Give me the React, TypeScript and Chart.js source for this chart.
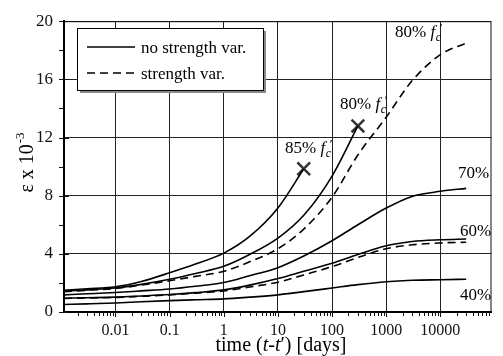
import React, { useEffect, useRef } from "react";
import { Chart, registerables } from "chart.js";

Chart.register(...registerables);

// time (t - t') [days]
const T = [0.00112, 0.003, 0.01, 0.03, 0.1, 0.3, 1, 3, 10, 30, 100, 300, 1000, 3000, 10000, 30000];

const S40 = [0.52, 0.56, 0.62, 0.7, 0.78, 0.84, 0.9, 1.02, 1.18, 1.4, 1.65, 1.88, 2.08, 2.18, 2.22, 2.25];
const S60 = [0.95, 0.98, 1.02, 1.1, 1.2, 1.33, 1.52, 1.85, 2.3, 2.8, 3.35, 3.95, 4.55, 4.85, 4.97, 5.02];
const S60_VAR = [0.93, 0.97, 1.0, 1.08, 1.18, 1.3, 1.45, 1.72, 2.05, 2.55, 3.12, 3.75, 4.35, 4.62, 4.75, 4.8];
const S70 = [1.18, 1.25, 1.34, 1.45, 1.58, 1.77, 2.03, 2.5, 3.05, 3.85, 4.9, 6.0, 7.15, 7.95, 8.3, 8.5];
const S80 = [1.43, 1.52, 1.65, 1.9, 2.25, 2.65, 3.14, 3.95, 5.08, 6.65, 9.35, 12.8];
const S80_VAR = [1.4, 1.5, 1.62, 1.85, 2.15, 2.45, 2.8, 3.45, 4.35, 5.7, 7.9, 10.8, 13.4, 15.9, 17.7, 18.5];
const S85 = [1.5, 1.6, 1.74, 2.1, 2.7, 3.3, 4.05, 5.2, 7.16, 9.85];

const X_TICKS = [0.01, 0.1, 1, 10, 100, 1000, 10000];
const Y_TICKS = [0, 4, 8, 12, 16, 20];

const LEGEND_SOLID = "no strength var.";
const LEGEND_DASHED = "strength var.";

const SERIF = "'Liberation Serif', 'Times New Roman', serif";

const pts = (ys: number[]) => ys.map((y, i) => ({ x: T[i], y }));
const lastPt = (ys: number[]) => ({ x: T[ys.length - 1], y: ys[ys.length - 1] });

function drawFcLabel(ctx: CanvasRenderingContext2D, pct: string, x: number, y: number) {
  ctx.font = `17px ${SERIF}`;
  ctx.fillText(pct + " ", x, y);
  let cx = x + ctx.measureText(pct + " ").width;
  ctx.font = `italic 17px ${SERIF}`;
  ctx.fillText("f", cx, y);
  cx += ctx.measureText("f").width + 0.5;
  ctx.font = `italic 12px ${SERIF}`;
  ctx.fillText("c", cx, y + 4);
  ctx.font = `13px ${SERIF}`;
  ctx.fillText("\u2032", cx + 4, y - 5);
}

const overlayPlugin = {
  id: "overlay",
  afterDraw(chart: any) {
    const ctx: CanvasRenderingContext2D = chart.ctx;
    const { left, right, top, bottom } = chart.chartArea;
    const xs = chart.scales.x;
    const ys = chart.scales.y;
    ctx.save();
    ctx.strokeStyle = "#111";
    ctx.lineWidth = 1;
    // frame top / right
    ctx.beginPath();
    ctx.moveTo(left, top + 0.5);
    ctx.lineTo(right - 0.5, top + 0.5);
    ctx.lineTo(right - 0.5, bottom);
    ctx.stroke();
    // x minor ticks
    ctx.beginPath();
    for (let d = -4; d <= 5; d++) {
      for (let m = 1; m <= 9; m++) {
        const v = m * Math.pow(10, d);
        if (v < xs.min || v > xs.max) continue;
        const px = Math.round(xs.getPixelForValue(v)) + 0.5;
        ctx.moveTo(px, bottom);
        ctx.lineTo(px, bottom + (m === 1 ? 5 : 4));
      }
    }
    // y ticks
    for (let v = 0; v <= 20; v += 2) {
      const py = Math.round(ys.getPixelForValue(v)) + 0.5;
      ctx.moveTo(left - 5, py);
      ctx.lineTo(v % 4 === 0 ? left + 5 : left, py);
    }
    ctx.stroke();

    // legend box
    const bx = 77, by = 28, bw = 186, bh = 62;
    ctx.fillStyle = "#8a8a8a";
    ctx.fillRect(bx + 3, by + 3, bw, bh);
    ctx.fillStyle = "#fff";
    ctx.fillRect(bx, by, bw, bh);
    ctx.strokeStyle = "#000";
    ctx.lineWidth = 1;
    ctx.strokeRect(bx + 0.5, by + 0.5, bw, bh);
    ctx.lineWidth = 1.6;
    ctx.beginPath();
    ctx.moveTo(87, 47);
    ctx.lineTo(135, 47);
    ctx.stroke();
    ctx.setLineDash([8, 5]);
    ctx.beginPath();
    ctx.moveTo(87, 73);
    ctx.lineTo(135, 73);
    ctx.stroke();
    ctx.setLineDash([]);
    ctx.fillStyle = "#000";
    ctx.textBaseline = "alphabetic";
    ctx.textAlign = "left";
    ctx.font = `17px ${SERIF}`;
    ctx.fillText(LEGEND_SOLID, 141, 53);
    ctx.fillText(LEGEND_DASHED, 141, 79);

    // curve labels
    drawFcLabel(ctx, "85%", 285, 153);
    drawFcLabel(ctx, "80%", 340, 109);
    drawFcLabel(ctx, "80%", 395, 37);
    ctx.font = `17px ${SERIF}`;
    ctx.fillText("70%", 458, 178);
    ctx.fillText("60%", 460, 236);
    ctx.fillText("40%", 460, 300);

    // x axis title
    const parts: [string, string][] = [
      ["time (", `20px ${SERIF}`],
      ["t", `italic 20px ${SERIF}`],
      ["-", `20px ${SERIF}`],
      ["t", `italic 20px ${SERIF}`],
      ["\u2032", `20px ${SERIF}`],
      [") [days]", `20px ${SERIF}`],
    ];
    let total = 0;
    for (const [s, f] of parts) { ctx.font = f; total += ctx.measureText(s).width; }
    let tx = 281 - total / 2;
    for (const [s, f] of parts) { ctx.font = f; ctx.fillText(s, tx, 351); tx += ctx.measureText(s).width; }

    // y axis title
    ctx.translate(33, 163);
    ctx.rotate(-Math.PI / 2);
    ctx.font = `20px ${SERIF}`;
    const main = "\u03b5 x 10";
    const mw = ctx.measureText(main).width;
    ctx.font = `13px ${SERIF}`;
    const sw = ctx.measureText("-3").width;
    const sx = -(mw + sw) / 2;
    ctx.font = `20px ${SERIF}`;
    ctx.fillText(main, sx, 0);
    ctx.font = `13px ${SERIF}`;
    ctx.fillText("-3", sx + mw + 1, -9);
    ctx.restore();
  },
};

export default function App() {
  const ref = useRef<HTMLCanvasElement | null>(null);
  useEffect(() => {
    document.body.style.margin = "0";
    if (!ref.current) return;
    const line = (data: number[], dashed: boolean) => ({
      data: pts(data),
      borderColor: "#000",
      borderWidth: 1.6,
      borderDash: dashed ? [8, 5] : [],
      pointRadius: 0,
      fill: false,
      cubicInterpolationMode: "monotone" as const,
    });
    const chart = new Chart(ref.current, {
      type: "line",
      data: {
        datasets: [
          line(S40, false),
          line(S60, false),
          line(S60_VAR, true),
          line(S70, false),
          line(S80, false),
          line(S80_VAR, true),
          line(S85, false),
          {
            data: [lastPt(S85), lastPt(S80)],
            showLine: false,
            pointStyle: "crossRot",
            pointRadius: 9,
            pointBorderWidth: 2.5,
            borderColor: "#333",
            pointBorderColor: "#333",
          } as any,
        ],
      },
      options: {
        animation: false,
        responsive: false,
        devicePixelRatio: 1,
        layout: { padding: { top: 13, right: 2, left: 0, bottom: 0 } },
        plugins: { legend: { display: false }, tooltip: { enabled: false } },
        scales: {
          x: {
            type: "logarithmic",
            min: 0.00112,
            max: 88000,
            afterBuildTicks: (scale: any) => {
              scale.ticks = X_TICKS.map((v) => ({ value: v }));
            },
            afterFit: (scale: any) => {
              scale.height = 44;
            },
            ticks: {
              autoSkip: false,
              maxRotation: 0,
              padding: 9,
              color: "#111",
              font: { family: SERIF, size: 16 },
              callback: (v: any) => String(v),
            },
            grid: { color: "#222", lineWidth: 1, drawTicks: false },
            border: { display: true, color: "#000", width: 2 },
          },
          y: {
            type: "linear",
            min: 0,
            max: 20,
            afterBuildTicks: (scale: any) => {
              scale.ticks = Y_TICKS.map((v) => ({ value: v }));
            },
            afterFit: (scale: any) => {
              scale.width = 64;
            },
            ticks: {
              padding: 11,
              color: "#111",
              font: { family: SERIF, size: 17 },
            },
            grid: { color: "#222", lineWidth: 1, drawTicks: false },
            border: { display: true, color: "#000", width: 2 },
          },
        },
      },
      plugins: [overlayPlugin],
    });
    return () => chart.destroy();
  }, []);
  return (
    <div style={{ position: "relative", width: 503, height: 356 }}>
      <canvas ref={ref} width={503} height={356} />
    </div>
  );
}
